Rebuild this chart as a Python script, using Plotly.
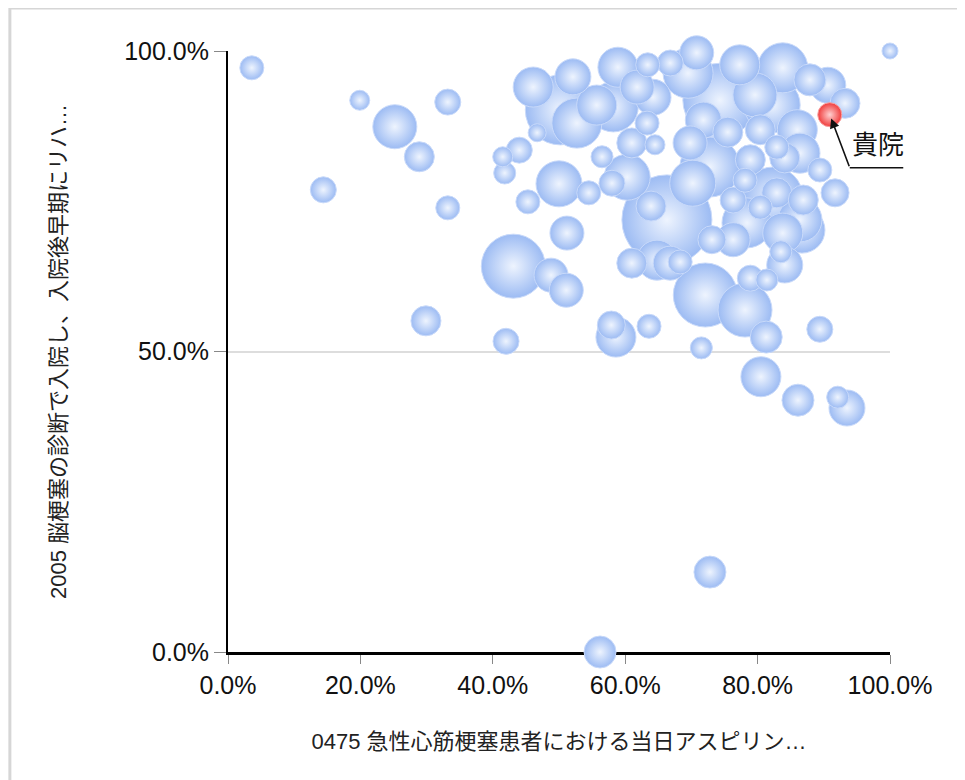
import plotly.graph_objects as go

# ---- data (percent values) ----
x_rate = [3.6, 14.4, 19.9, 25.2, 28.9, 33.2, 33.2, 29.9, 42.0, 43.1,
          48.8, 51.1, 51.2, 50.0, 45.3, 41.5, 41.8, 44.0, 46.7, 46.1,
          50.2, 52.1, 54.5, 56.5, 58.0, 60.3, 58.2, 58.9, 61.0, 63.3,
          64.5, 69.8, 63.9, 66.3, 70.2, 72.8, 61.0, 64.8, 66.8, 72.1,
          78.1, 81.3, 78.9, 81.4, 84.1, 83.5, 76.3, 78.4, 82.3, 82.9,
          86.7, 83.8, 76.3, 78.1, 91.7, 74.3, 69.5, 70.8, 66.8, 83.8,
          82.2, 86.0, 90.6, 93.2, 82.9, 84.1, 86.4, 86.4, 57.9, 58.6,
          63.6, 71.5, 89.4, 80.5, 86.1, 92.1, 93.5, 72.8, 56.2, 100.0,
          61.8, 64.2, 55.7, 63.4, 77.3, 79.6, 87.9, 80.4, 75.5, 71.8,
          52.7, 78.9, 89.4, 86.9, 80.4, 68.3, 73.1]
y_rate = [97.2, 76.9, 91.8, 87.4, 82.4, 91.5, 73.9, 55.1, 51.7, 64.2,
          62.7, 60.2, 69.7, 77.9, 74.9, 82.4, 79.7, 83.5, 86.4, 94.0,
          90.2, 95.7, 76.4, 82.4, 78.0, 79.0, 90.7, 97.3, 84.7, 88.0,
          84.4, 84.7, 74.2, 71.9, 78.0, 80.7, 64.7, 65.2, 64.7, 59.4,
          56.9, 52.4, 62.2, 61.9, 64.4, 66.6, 68.6, 71.4, 75.7, 76.4,
          70.2, 69.7, 75.2, 78.5, 76.4, 91.8, 96.3, 99.7, 98.0, 97.2,
          91.0, 86.9, 94.3, 91.3, 84.0, 82.2, 83.0, 71.9, 54.4, 52.4,
          54.2, 50.6, 53.7, 45.8, 41.9, 42.4, 40.6, 13.3, 0.0, 100.0,
          94.0, 92.3, 91.0, 97.7, 97.7, 92.7, 95.2, 86.9, 86.5, 88.5,
          88.0, 81.9, 80.2, 75.2, 74.0, 64.9, 68.6]
volume = [12, 13, 10, 22, 15, 13, 12, 15, 13, 32,
          17, 17, 17, 23, 12, 10, 11, 13, 9, 20,
          35, 18, 12, 11, 13, 23, 25, 20, 15, 12,
          10, 17, 15, 45, 23, 30, 15, 20, 17, 32,
          27, 16, 13, 11, 18, 11, 17, 25, 30, 15,
          23, 20, 13, 12, 14, 37, 25, 17, 13, 25,
          28, 20, 18, 15, 12, 15, 20, 22, 14, 20,
          12, 11, 13, 20, 16, 11, 18, 16, 16, 8,
          17, 18, 20, 12, 20, 22, 16, 15, 15, 18,
          25, 15, 12, 15, 12, 12, 14]

own_x = [90.9]
own_y = [89.4]
own_volume = [12]
own_label = "貴院"

x_title = "0475 急性心筋梗塞患者における当日アスピリン…"
y_title = "2005 脳梗塞の診断で入院し、入院後早期にリハ…"
tick_vals = [0, 20, 40, 60, 80, 100]
tick_text = ["0.0%", "20.0%", "40.0%", "60.0%", "80.0%", "100.0%"]
ytick_vals = [0, 50, 100]
ytick_text = ["0.0%", "50.0%", "100.0%"]

# draw larger bubbles first so small ones sit on top
order = sorted(range(len(volume)), key=lambda i: -volume[i])
xs = [x_rate[i] for i in order]
ys = [y_rate[i] for i in order]
vs = [volume[i] for i in order]

FONT = "Arial, 'Liberation Sans', 'Noto Sans CJK JP', sans-serif"

fig = go.Figure()
fig.add_trace(go.Scatter(
    x=xs, y=ys, mode="markers", cliponaxis=False, hoverinfo="skip",
    marker=dict(size=vs, sizemode="diameter", sizeref=0.5,
                color="#9cbbf3",
                gradient=dict(type="radial", color="#eef4fe"),
                line=dict(color="#c9dafa", width=1), opacity=1),
    showlegend=False))
fig.add_trace(go.Scatter(
    x=own_x, y=own_y, mode="markers", cliponaxis=False, hoverinfo="skip",
    marker=dict(size=own_volume, sizemode="diameter", sizeref=0.5,
                color="#f03c3c",
                gradient=dict(type="radial", color="#ffd0d0"),
                line=dict(color="#f8a0a0", width=1), opacity=1),
    showlegend=False))

# callout: arrow to own hospital, horizontal leader line, label
fig.add_annotation(x=own_x[0], y=own_y[0], text="", showarrow=True,
                   ax=20, ay=53, axref="pixel", ayref="pixel",
                   arrowhead=2, arrowsize=1.2, arrowwidth=1.6,
                   arrowcolor="#111111", standoff=4)
fig.add_annotation(x=own_x[0], y=own_y[0], text="", showarrow=True,
                   xshift=20, yshift=-53, ax=55, ay=0,
                   arrowhead=0, arrowwidth=1.6, arrowcolor="#111111")
fig.add_annotation(x=own_x[0], y=own_y[0], text=own_label, showarrow=False,
                   xshift=48, yshift=-30,
                   font=dict(family=FONT, size=26, color="#111111"))

# outer frame of the chart box
fig.add_shape(type="rect", xref="paper", yref="paper",
              x0=-0.3295, x1=2.0, y0=-2.0, y1=1.0716,
              line=dict(color="#d6d6d6", width=3), layer="below")

fig.update_layout(
    width=965, height=780,
    margin=dict(l=220, r=83, t=43, b=136),
    paper_bgcolor="white", plot_bgcolor="white",
    font=dict(family=FONT, size=25, color="#111111"),
    xaxis=dict(range=[0, 100], tickvals=tick_vals, ticktext=tick_text,
               showgrid=False, zeroline=False,
               showline=True, linecolor="#000000", linewidth=3,
               ticks="outside", ticklen=9, tickcolor="#888888", tickwidth=1,
               layer="below traces",
               title=dict(text=x_title, standoff=36,
                          font=dict(family=FONT, size=22, color="#222222")),
               fixedrange=True),
    yaxis=dict(range=[0, 100], tickvals=ytick_vals, ticktext=ytick_text,
               showgrid=True, gridcolor="#dddddd", gridwidth=2,
               zeroline=False,
               showline=True, linecolor="#000000", linewidth=2,
               ticks="outside", ticklen=12, tickcolor="#888888", tickwidth=1,
               layer="below traces",
               title=dict(text=y_title, standoff=52,
                          font=dict(family=FONT, size=22, color="#222222")),
               fixedrange=True),
)

fig.write_html("out.html")
